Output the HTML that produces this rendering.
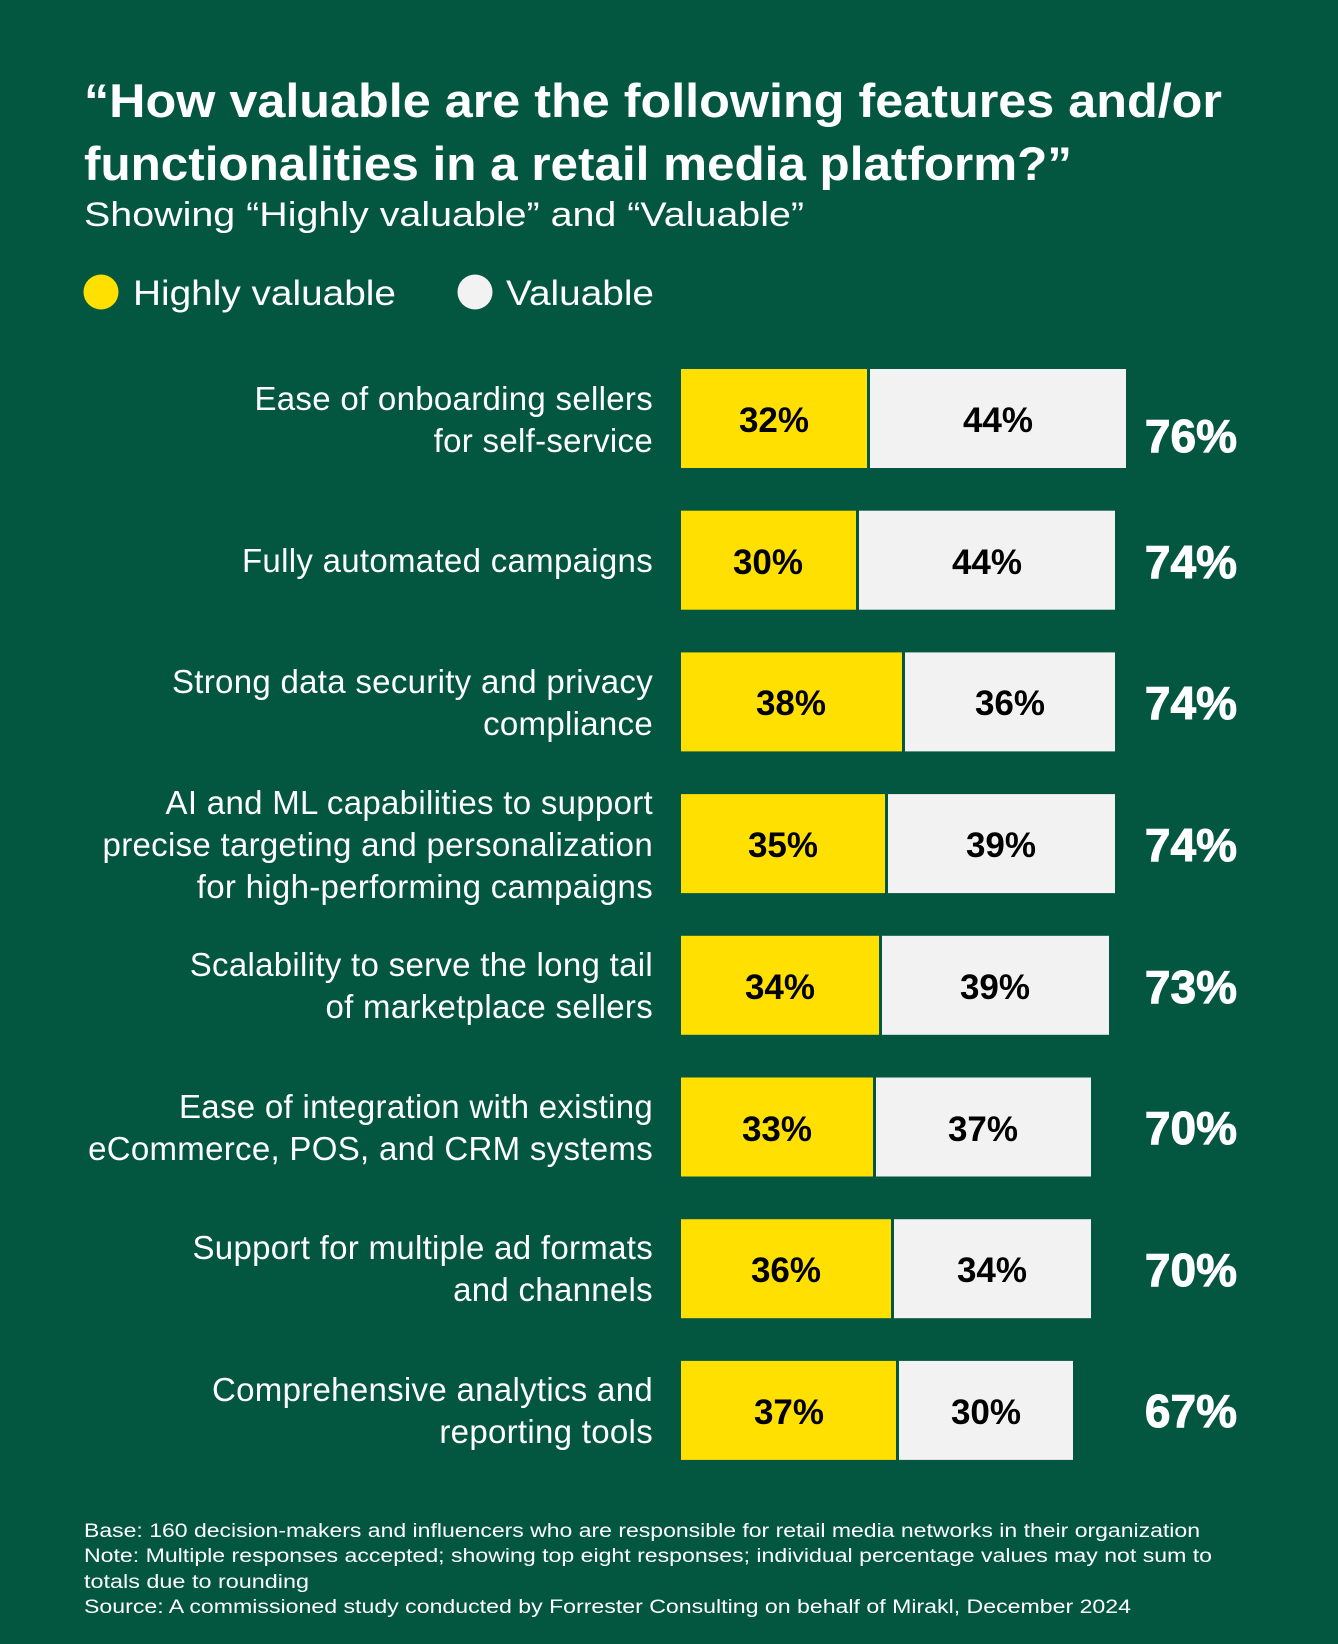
<!DOCTYPE html>
<html><head><meta charset="utf-8"><style>
html,body{margin:0;padding:0;background:#035741;}
svg{display:block;font-family:"Liberation Sans",Arial,sans-serif;}
</style></head><body>
<svg width="1338" height="1644" viewBox="0 0 1338 1644" xmlns="http://www.w3.org/2000/svg">
<rect width="1338" height="1644" fill="#035741"/>
<g fill="#fff">
<text x="84" y="117" font-size="47" font-weight="bold" textLength="1138" lengthAdjust="spacingAndGlyphs">“How valuable are the following features and/or</text>
<text x="84" y="180" font-size="47" font-weight="bold" textLength="988" lengthAdjust="spacingAndGlyphs">functionalities in a retail media platform?”</text>
<text x="84" y="226" font-size="34" textLength="720" lengthAdjust="spacingAndGlyphs">Showing “Highly valuable” and “Valuable”</text>
<circle cx="101" cy="292" r="17.5" fill="#FFE000"/>
<text x="133" y="305" font-size="35" textLength="263" lengthAdjust="spacingAndGlyphs">Highly valuable</text>
<circle cx="475" cy="292" r="17.5" fill="#F2F2F2"/>
<text x="506" y="305" font-size="35" textLength="148" lengthAdjust="spacingAndGlyphs">Valuable</text>
</g>
<g font-size="33" fill="#fff" text-anchor="end" letter-spacing="0.3">
<text x="653" y="410">Ease of onboarding sellers</text>
<text x="653" y="452">for self-service</text>
<text x="653" y="572">Fully automated campaigns</text>
<text x="653" y="693">Strong data security and privacy</text>
<text x="653" y="735">compliance</text>
<text x="653" y="814">AI and ML capabilities to support</text>
<text x="653" y="856">precise targeting and personalization</text>
<text x="653" y="898">for high-performing campaigns</text>
<text x="653" y="976">Scalability to serve the long tail</text>
<text x="653" y="1018">of marketplace sellers</text>
<text x="653" y="1118">Ease of integration with existing</text>
<text x="653" y="1160">eCommerce, POS, and CRM systems</text>
<text x="653" y="1259">Support for multiple ad formats</text>
<text x="653" y="1301">and channels</text>
<text x="653" y="1401">Comprehensive analytics and</text>
<text x="653" y="1443">reporting tools</text>
</g>
<g font-weight="bold" font-size="35" text-anchor="middle">
<rect x="681" y="369" width="186" height="99" fill="#FFE000"/><rect x="870" y="369" width="256" height="99" fill="#F2F2F2"/>
<text x="774" y="432">32%</text><text x="998" y="432">44%</text>
<rect x="681" y="510.7" width="175" height="99" fill="#FFE000"/><rect x="859" y="510.7" width="256" height="99" fill="#F2F2F2"/>
<text x="768" y="574">30%</text><text x="987" y="574">44%</text>
<rect x="681" y="652.4" width="221" height="99" fill="#FFE000"/><rect x="905" y="652.4" width="210" height="99" fill="#F2F2F2"/>
<text x="791" y="715">38%</text><text x="1010" y="715">36%</text>
<rect x="681" y="794.1" width="204" height="99" fill="#FFE000"/><rect x="888" y="794.1" width="227" height="99" fill="#F2F2F2"/>
<text x="783" y="857">35%</text><text x="1001" y="857">39%</text>
<rect x="681" y="935.8" width="198" height="99" fill="#FFE000"/><rect x="882" y="935.8" width="227" height="99" fill="#F2F2F2"/>
<text x="780" y="999">34%</text><text x="995" y="999">39%</text>
<rect x="681" y="1077.5" width="192" height="99" fill="#FFE000"/><rect x="876" y="1077.5" width="215" height="99" fill="#F2F2F2"/>
<text x="777" y="1141">33%</text><text x="983" y="1141">37%</text>
<rect x="681" y="1219.2" width="210" height="99" fill="#FFE000"/><rect x="894" y="1219.2" width="197" height="99" fill="#F2F2F2"/>
<text x="786" y="1282">36%</text><text x="992" y="1282">34%</text>
<rect x="681" y="1360.9" width="215" height="99" fill="#FFE000"/><rect x="899" y="1360.9" width="174" height="99" fill="#F2F2F2"/>
<text x="789" y="1424">37%</text><text x="986" y="1424">30%</text>
</g>
<g fill="#fff" font-weight="900" font-size="46" text-anchor="end" stroke="#fff" stroke-width="1">
<text x="1237" y="452">76%</text>
<text x="1237" y="578">74%</text>
<text x="1237" y="719">74%</text>
<text x="1237" y="861">74%</text>
<text x="1237" y="1003">73%</text>
<text x="1237" y="1144">70%</text>
<text x="1237" y="1286">70%</text>
<text x="1237" y="1427">67%</text>
</g>
<g fill="#fff" font-size="19">
<text x="84" y="1537" textLength="1116" lengthAdjust="spacingAndGlyphs">Base: 160 decision-makers and influencers who are responsible for retail media networks in their organization</text>
<text x="84" y="1562" textLength="1128" lengthAdjust="spacingAndGlyphs">Note: Multiple responses accepted; showing top eight responses; individual percentage values may not sum to</text>
<text x="84" y="1588" textLength="225" lengthAdjust="spacingAndGlyphs">totals due to rounding</text>
<text x="84" y="1613" textLength="1047" lengthAdjust="spacingAndGlyphs">Source: A commissioned study conducted by Forrester Consulting on behalf of Mirakl, December 2024</text>
</g>
</svg>
</body></html>
